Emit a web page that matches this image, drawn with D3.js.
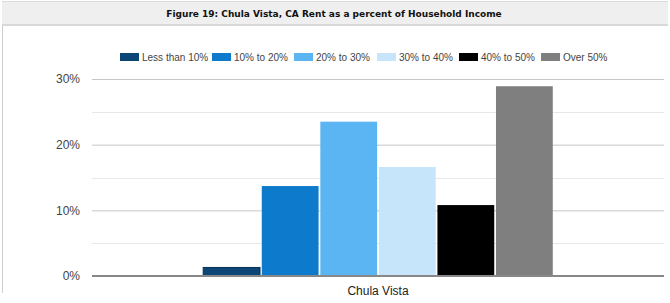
<!DOCTYPE html>
<html>
<head>
<meta charset="utf-8">
<script src="https://cdn.jsdelivr.net/npm/d3@7"></script>
<style>
  body { margin: 0; background: #fff; }
  text { font-family: "Liberation Sans", Arial, sans-serif; }
</style>
</head>
<body>
<div id="chart"></div>
<script>
// chart values
const groups = ["Chula Vista"];
const series = ["Less than 10%", "10% to 20%", "20% to 30%", "30% to 40%", "40% to 50%", "Over 50%"];
const values = [1.3, 13.7, 23.5, 16.6, 10.8, 28.9];
const colors = ["#0b4676", "#0e7acb", "#5bb5f2", "#c6e4fa", "#000000", "#7f7f7f"];
const yTicks = [0, 10, 20, 30];
const title = "Figure 19: Chula Vista, CA Rent as a percent of Household Income";

const width = 670;
const height = 303;
const margin = { top: 79, right: 6, bottom: 27, left: 92 };
const plotW = width - margin.left - margin.right;
const plotH = height - margin.top - margin.bottom;

const svg = d3.select('#chart')
    .append('svg')
    .attr('width', width)
    .attr('height', height);

// title bar
svg.append('rect')
    .attr('x', 2).attr('y', 1)
    .attr('width', 666).attr('height', 24)
    .attr('fill', '#efefef');
svg.append('line')
    .attr('x1', 2).attr('x2', 668).attr('y1', 1.5).attr('y2', 1.5)
    .attr('stroke', '#dcdcdc');
svg.append('line')
    .attr('x1', 2).attr('x2', 668).attr('y1', 25).attr('y2', 25)
    .attr('stroke', '#d8d8d8').attr('stroke-width', 2);
svg.append('line')
    .attr('x1', 2.5).attr('x2', 2.5).attr('y1', 26).attr('y2', 293)
    .attr('stroke', '#cccccc');

svg.append('text')
    .attr('x', 334)
    .attr('y', 17)
    .attr('text-anchor', 'middle')
    .style('font-family', '"DejaVu Sans", Verdana, sans-serif')
    .style('font-weight', 'bold')
    .style('font-size', '9px')
    .attr('fill', '#111')
    .text(title);

// legend
const legendX = [120, 212, 294, 377, 459, 541];
const legend = svg.append('g');
series.forEach((s, i) => {
    legend.append('rect')
        .attr('x', legendX[i]).attr('y', 53)
        .attr('width', 19).attr('height', 8)
        .attr('fill', colors[i]);
    legend.append('text')
        .attr('x', legendX[i] + 22).attr('y', 61)
        .style('font-size', '10px')
        .attr('fill', '#444')
        .text(s);
});

const g = svg.append('g')
    .attr('transform', `translate(${margin.left},${margin.top})`);

const y = d3.scaleLinear()
    .domain([0, 30])
    .range([plotH, 0]);

const x0 = d3.scaleBand()
    .domain(groups)
    .range([0, plotW])
    .paddingOuter(0.31)
    .paddingInner(0);

const x1 = d3.scaleBand()
    .domain(series)
    .range([0, x0.bandwidth()])
    .padding(0.03);

// minor gridlines
g.selectAll('.minor')
    .data([5, 15, 25])
    .enter().append('line')
    .attr('x1', 0).attr('x2', plotW)
    .attr('y1', d => Math.round(y(d)) + 0.5)
    .attr('y2', d => Math.round(y(d)) + 0.5)
    .attr('stroke', '#e8e8e8');

// y axis with gridlines
const yAxis = g.append('g')
    .call(d3.axisLeft(y)
        .tickValues(yTicks)
        .tickSize(-plotW)
        .tickPadding(12)
        .tickFormat(d => d + '%'));
yAxis.select('.domain').remove();
yAxis.selectAll('.tick line').attr('stroke', '#c6c6c6');
yAxis.selectAll('.tick text')
    .attr('fill', '#444')
    .style('font-size', '12px');

// bars
g.append('g')
    .attr('transform', `translate(${x0(groups[0])},0)`)
    .selectAll('rect')
    .data(values)
    .enter().append('rect')
    .attr('x', (d, i) => x1(series[i]))
    .attr('y', d => y(d))
    .attr('width', x1.bandwidth())
    .attr('height', d => plotH - y(d))
    .attr('fill', (d, i) => colors[i])
    .attr('stroke', (d, i) => i === 0 ? '#06304f' : 'none')
    .append('title')
    .text((d, i) => series[i] + ': ' + d + '%');

// baseline
g.append('line')
    .attr('x1', 0).attr('x2', plotW)
    .attr('y1', plotH).attr('y2', plotH)
    .attr('stroke', '#888')
    .attr('stroke-width', 2);

// x axis label
g.selectAll('.xlabel')
    .data(groups)
    .enter().append('text')
    .attr('x', d => x0(d) + x0.bandwidth() / 2)
    .attr('y', plotH + 19)
    .attr('text-anchor', 'middle')
    .attr('fill', '#222')
    .style('font-size', '12px')
    .text(d => d);
</script>
</body>
</html>
